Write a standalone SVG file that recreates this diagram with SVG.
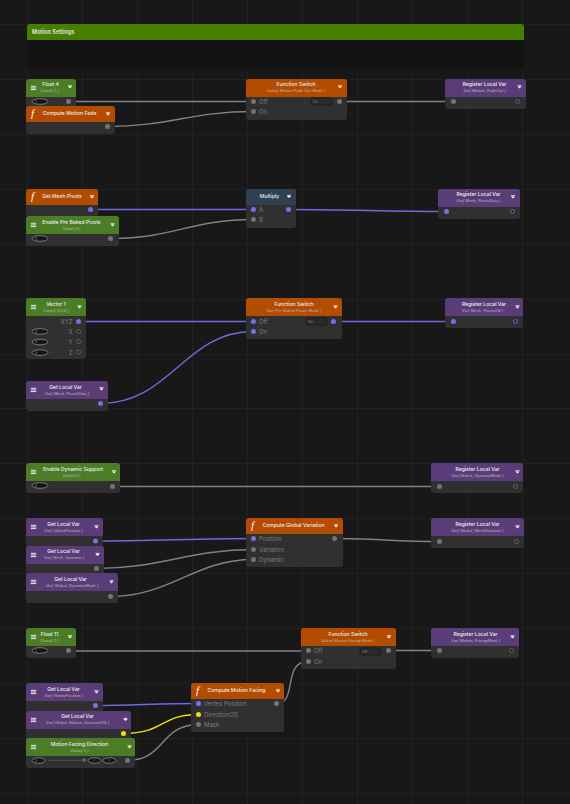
<svg xmlns="http://www.w3.org/2000/svg" width="570" height="804" viewBox="0 0 570 804">
<style>
text{font-family:"Inter","Liberation Sans",Arial,sans-serif}
.t{font-size:5.1px;font-weight:500;fill:#eeeeee;text-anchor:middle}
.s{font-family:"Liberation Sans",Arial,sans-serif;font-size:4.2px;font-style:italic;fill:#c4c4c4;text-anchor:middle;opacity:.9}
.l{font-size:6px;fill:#7c7c7c}
.r{font-size:6px;fill:#7c7c7c;text-anchor:end}
.b{font-size:3.6px;fill:#8a8a8a}
.n{font-size:3.4px;fill:#8a8a8a;text-anchor:middle}
.f{font-family:"Liberation Serif",serif;font-size:11px;font-style:italic;fill:#fff}
.body{fill:#303030}
.green{fill:#4b7d27}.orange{fill:#b34b00}.purple{fill:#5a3d78}.slate{fill:#2f4053}
.w{fill:none;stroke-width:1.4}
.g{stroke:#828282}.p{stroke:#7068e2}.y{stroke:#eee010}
.pg{fill:#747474}.pp{fill:#7770e6}.py{fill:#eee010}
.hg{fill:#2a2a2a;stroke:#6c6c6c;stroke-width:.8}.hp{fill:#2a2a2a;stroke:#7770e6;stroke-width:.8}
.tog{fill:#151515;stroke:#9a9a9a;stroke-width:.7}
.btn{fill:#2a2a2a;stroke:#111;stroke-width:.6}
.grid{stroke:#242424;stroke-width:.8}
</style>
<defs>
<g id="menu"><rect x="-2.700" y="-2.200" width="5.400" height="1.100" fill="#d8d8d8"/><rect x="-2.700" y="-.6" width="5.400" height="1.100" fill="#d8d8d8"/><rect x="-2.700" y="1" width="5.400" height="1.100" fill="#d8d8d8"/></g>
<g id="drop"><rect x="-2" y="-1.600" width="4" height=".8" fill="#fff"/><path d="M-2 -.6H2L0 1.600Z" fill="#fff"/></g>
</defs>
<rect width="570" height="804" fill="#181818"/>
<g id="grid" class="grid">
<path d="M27.500 0V804M82.500 0V804M137.500 0V804M192.500 0V804M247.500 0V804M302.500 0V804M357.500 0V804M412.500 0V804M467.500 0V804M522.500 0V804"/>
<path d="M0 24.500H570M0 79.500H570M0 134.500H570M0 189.500H570M0 244.500H570M0 299.500H570M0 354.500H570M0 408.500H570M0 463.500H570M0 518.500H570M0 573.500H570M0 628.500H570M0 683.500H570M0 738.500H570M0 793.500H570"/>
</g>
<g id="motion-settings">
<path d="M27 40H524V66a3 3 0 0 1-3 3H30a3 3 0 0 1-3-3Z" fill="#131313" fill-opacity=".92"/>
<path d="M27 40V27a3 3 0 0 1 3-3H521a3 3 0 0 1 3 3V40Z" fill="#467f00"/>
<text x="32" y="33.800" style="font-size:5.600px;font-weight:600;fill:#e6e6e6">Motion Settings</text>
</g>
<g id="connectors">
<path class="w g" d="M68.500 101.500H253"/>
<path class="w g" d="M107 126.500C170 126.500 190 111.500 253 111.500"/>
<path class="w g" d="M339.500 101.500H453"/>
<path class="w p" d="M90.500 209.500H253"/>
<path class="w g" d="M110.500 238.500C175 238.500 190 219.500 253 219.500"/>
<path class="w p" d="M288.500 209.500C350 209.500 385 211.500 446 211.500"/>
<path class="w p" d="M78.500 321.500H253"/>
<path class="w p" d="M100.500 403.500C170 403.500 185 331.500 253 331.500"/>
<path class="w p" d="M333.500 321.500H453"/>
<path class="w g" d="M112.500 486.500H439"/>
<path class="w p" d="M95.500 541C150 541 200 538.500 253 538.500"/>
<path class="w g" d="M96.500 568.500C160 568.500 190 549.500 253 549.500"/>
<path class="w g" d="M110.500 596.500C170 596.500 195 559.500 253 559.500"/>
<path class="w g" d="M334.500 538.500C370 538.500 400 541.500 439 541.500"/>
<path class="w g" d="M68.500 651H308"/>
<path class="w g" d="M388.500 650.500H439"/>
<path class="w g" d="M276.500 703.500C298 703.500 282 661.500 308 661.500"/>
<path class="w p" d="M95.500 705.500C130 705.500 160 703.500 198.500 703.500"/>
<path class="w y" d="M123.500 733.500C165 733.500 160 714.500 198.500 714.500"/>
<path class="w g" d="M127.500 760.500C165 760.500 160 724.500 198.500 724.500"/>
</g>
<g id="float-4">
<rect class="body" x="26" y="79" width="50" height="33" rx="3"/><path class="green" d="M26 97V82a3 3 0 0 1 3-3H73a3 3 0 0 1 3 3V97Z"/>
<use href="#menu" x="33.500" y="88"/><use href="#drop" x="70" y="87"/>
<text class="t" x="50.500" y="86">Float 4</text><text class="s" x="49.500" y="92">Const( 1 )</text>
<ellipse class="tog" cx="40" cy="101.500" rx="8" ry="2.800"/><text class="n" x="36" y="102.700">1</text><circle class="pg" cx="68.500" cy="101.500" r="2.500"/>
</g>
<g id="compute-motion-fade">
<rect class="body" x="26" y="106" width="89" height="28" rx="3"/><path class="orange" d="M26 122V109a3 3 0 0 1 3-3H112a3 3 0 0 1 3 3V122Z"/>
<text class="f" x="31" y="117">f</text><use href="#drop" x="108" y="114"/>
<text class="t" x="69.500" y="115">Compute Motion Fade</text>
<circle class="pg" cx="107.500" cy="126.500" r="2.500"/>
</g>
<g id="function-switch-1">
<rect class="body" x="246" y="79" width="101" height="41" rx="3"/><path class="orange" d="M246 97V82a3 3 0 0 1 3-3H344a3 3 0 0 1 3 3V97Z"/>
<use href="#drop" x="340" y="87"/>
<text class="t" x="296" y="86">Function Switch</text><text class="s" x="296" y="92">Value( Motion Fade Out Mode )</text>
<circle class="pg" cx="253.500" cy="101.500" r="2.500"/><text class="l" x="259" y="103.700">Off</text>
<circle class="pg" cx="253.500" cy="111.500" r="2.500"/><text class="l" x="259" y="113.700">On</text>
<rect class="btn" x="311" y="98" width="21" height="7" rx="1.500"/><text class="b" x="313" y="102.800">On</text>
<circle class="pg" cx="339.500" cy="101.500" r="2.500"/>
</g>
<g id="register-fade">
<rect class="body" x="445" y="79" width="81" height="30" rx="3"/><path class="purple" d="M445 97V82a3 3 0 0 1 3-3H523a3 3 0 0 1 3 3V97Z"/>
<use href="#drop" x="519.500" y="87"/>
<text class="t" x="484.500" y="86">Register Local Var</text><text class="s" x="484.500" y="92">Var( Motion_FadeOut )</text>
<circle class="pg" cx="453.500" cy="101.500" r="2.500"/><circle class="hg" cx="517.500" cy="101.500" r="2"/>
</g>
<g id="get-mesh-pivots">
<rect class="body" x="26" y="189" width="72" height="28" rx="3"/><path class="orange" d="M26 205V192a3 3 0 0 1 3-3H95a3 3 0 0 1 3 3V205Z"/>
<text class="f" x="31" y="200">f</text><use href="#drop" x="92" y="197"/>
<text class="t" x="62" y="198">Get Mesh Pivots</text>
<circle class="pp" cx="90.500" cy="209.500" r="2.500"/>
</g>
<g id="enable-pre-baked-pivots">
<rect class="body" x="26" y="216" width="93" height="30" rx="3"/><path class="green" d="M26 234V219a3 3 0 0 1 3-3H116a3 3 0 0 1 3 3V234Z"/>
<use href="#menu" x="33.500" y="225"/><use href="#drop" x="112.500" y="225"/>
<text class="t" x="71.500" y="224">Enable Pre Baked Pivots</text><text class="s" x="71.500" y="229.500">Value( 0 )</text>
<ellipse class="tog" cx="40" cy="238.500" rx="8" ry="2.800"/><text class="n" x="36" y="239.700">0</text><circle class="pg" cx="110.500" cy="238.500" r="2.500"/>
</g>
<g id="multiply">
<rect class="body" x="246" y="189" width="50" height="39" rx="3"/><path class="slate" d="M246 205V192a3 3 0 0 1 3-3H293a3 3 0 0 1 3 3V205Z"/>
<use href="#drop" x="289" y="196.500"/>
<text class="t" x="269.500" y="198">Multiply</text>
<circle class="pp" cx="253.500" cy="209.500" r="2.500"/><text class="l" x="259" y="211.700">A</text>
<circle class="pg" cx="253.500" cy="219.500" r="2.500"/><text class="l" x="259" y="221.700">B</text>
<circle class="pp" cx="288.500" cy="209.500" r="2.500"/>
</g>
<g id="register-pivots-data">
<rect class="body" x="438" y="189" width="82" height="30" rx="3"/><path class="purple" d="M438 207V192a3 3 0 0 1 3-3H517a3 3 0 0 1 3 3V207Z"/>
<use href="#drop" x="513" y="197"/>
<text class="t" x="478.500" y="196">Register Local Var</text><text class="s" x="478.500" y="202">Var( Mesh_PivotsData )</text>
<circle class="pp" cx="446.500" cy="211.500" r="2.500"/><circle class="hp" cx="512.500" cy="211.500" r="2"/>
</g>
<g id="vector-1">
<rect class="body" x="26" y="298" width="60" height="61" rx="3"/><path class="green" d="M26 316V301a3 3 0 0 1 3-3H83a3 3 0 0 1 3 3V316Z"/>
<use href="#menu" x="33.500" y="307"/><use href="#drop" x="79.500" y="307"/>
<text class="t" x="56" y="306">Vector 1</text><text class="s" x="56" y="312">Const( 0,0,0 )</text>
<text class="r" x="72.500" y="323.700">XYZ</text><circle class="pp" cx="78.500" cy="321.500" r="2.500"/>
<ellipse class="tog" cx="40" cy="331.500" rx="8" ry="2.800"/><text class="n" x="36" y="332.700">0</text><text class="r" x="72.500" y="333.700">X</text><circle class="hg" cx="78.500" cy="331.500" r="2"/>
<ellipse class="tog" cx="40" cy="342" rx="8" ry="2.800"/><text class="n" x="36" y="343.200">0</text><text class="r" x="72.500" y="343.700">Y</text><circle class="hg" cx="78.500" cy="341.500" r="2"/>
<ellipse class="tog" cx="40" cy="352.500" rx="8" ry="2.800"/><text class="n" x="36" y="353.700">0</text><text class="r" x="72.500" y="354.700">Z</text><circle class="hg" cx="78.500" cy="352" r="2"/>
</g>
<g id="get-mesh-pivots-data">
<rect class="body" x="26" y="381" width="82" height="30" rx="3"/><path class="purple" d="M26 399V384a3 3 0 0 1 3-3H105a3 3 0 0 1 3 3V399Z"/>
<use href="#menu" x="33.500" y="390"/><use href="#drop" x="101.500" y="389"/>
<text class="t" x="65.500" y="389">Get Local Var</text><text class="s" x="67" y="394.500">Var( Mesh_PivotsData )</text>
<circle class="pp" cx="100.500" cy="403.500" r="2.500"/>
</g>
<g id="function-switch-2">
<rect class="body" x="246" y="298" width="96" height="41" rx="3"/><path class="orange" d="M246 316V301a3 3 0 0 1 3-3H339a3 3 0 0 1 3 3V316Z"/>
<use href="#drop" x="335.500" y="307"/>
<text class="t" x="294" y="306">Function Switch</text><text class="s" x="294" y="312">Var( Pre Baked Pivots Mode )</text>
<circle class="pp" cx="253.500" cy="321.500" r="2.500"/><text class="l" x="259" y="323.700">Off</text>
<circle class="pp" cx="253.500" cy="331.500" r="2.500"/><text class="l" x="259" y="333.700">On</text>
<rect class="btn" x="306" y="318" width="21" height="7" rx="1.500"/><text class="b" x="308" y="322.800">On</text>
<circle class="pp" cx="333.500" cy="321.500" r="2.500"/>
</g>
<g id="register-pivots-os">
<rect class="body" x="445" y="298" width="78" height="30" rx="3"/><path class="purple" d="M445 316V301a3 3 0 0 1 3-3H520a3 3 0 0 1 3 3V316Z"/>
<use href="#drop" x="517.500" y="307"/>
<text class="t" x="484" y="306">Register Local Var</text><text class="s" x="482.500" y="312">Var( Mesh_PivotsOS )</text>
<circle class="pp" cx="453.500" cy="321.500" r="2.500"/><circle class="hp" cx="515.500" cy="321.500" r="2"/>
</g>
<g id="enable-dynamic-support">
<rect class="body" x="26" y="463" width="94" height="30" rx="3"/><path class="green" d="M26 481V466a3 3 0 0 1 3-3H117a3 3 0 0 1 3 3V481Z"/>
<use href="#menu" x="33.500" y="472"/><use href="#drop" x="114" y="472"/>
<text class="t" x="73" y="471">Enable Dynamic Support</text><text class="s" x="71.500" y="476.500">Value( 0 )</text>
<ellipse class="tog" cx="40" cy="485.500" rx="8" ry="2.800"/><text class="n" x="36" y="486.700">0</text><circle class="pg" cx="112.500" cy="486.500" r="2.500"/>
</g>
<g id="register-dynamic">
<rect class="body" x="431" y="463" width="92" height="30" rx="3"/><path class="purple" d="M431 481V466a3 3 0 0 1 3-3H520a3 3 0 0 1 3 3V481Z"/>
<use href="#drop" x="517.500" y="472"/>
<text class="t" x="477.500" y="471">Register Local Var</text><text class="s" x="477.500" y="476.500">Var( Global_DynamicMode )</text>
<circle class="pg" cx="439.500" cy="486.500" r="2.500"/><circle class="hg" cx="515.500" cy="486.500" r="2"/>
</g>
<g id="get-object-position">
<rect class="body" x="26" y="518" width="77" height="30" rx="3"/><path class="purple" d="M26 536V521a3 3 0 0 1 3-3H100a3 3 0 0 1 3 3V536Z"/>
<use href="#menu" x="33.500" y="527"/><use href="#drop" x="96.500" y="527"/>
<text class="t" x="63.500" y="526">Get Local Var</text><text class="s" x="63.500" y="531.500">Var( ObjectPosition )</text>
<circle class="pp" cx="95.500" cy="541" r="2.500"/>
</g>
<g id="get-mesh-variation">
<rect class="body" x="26" y="546" width="78" height="30" rx="3"/><path class="purple" d="M26 564V549a3 3 0 0 1 3-3H101a3 3 0 0 1 3 3V564Z"/>
<use href="#menu" x="33.500" y="555"/><use href="#drop" x="97.500" y="554.500"/>
<text class="t" x="63.500" y="553">Get Local Var</text><text class="s" x="64" y="559">Var( Mesh_Variation )</text>
<circle class="pg" cx="96.500" cy="568.500" r="2.500"/>
</g>
<g id="get-dynamic-mode">
<rect class="body" x="26" y="573" width="92" height="30" rx="3"/><path class="purple" d="M26 591V576a3 3 0 0 1 3-3H115a3 3 0 0 1 3 3V591Z"/>
<use href="#menu" x="33.500" y="582"/><use href="#drop" x="111.500" y="582"/>
<text class="t" x="70.500" y="581">Get Local Var</text><text class="s" x="72" y="586.500">Var( Global_DynamicMode )</text>
<circle class="pg" cx="110.500" cy="596.500" r="2.500"/>
</g>
<g id="compute-global-variation">
<rect class="body" x="246" y="518" width="97" height="49" rx="3"/><path class="orange" d="M246 534V521a3 3 0 0 1 3-3H340a3 3 0 0 1 3 3V534Z"/>
<text class="f" x="251" y="529">f</text><use href="#drop" x="336" y="526"/>
<text class="t" x="293.500" y="527">Compute Global Variation</text>
<circle class="pp" cx="253.500" cy="538.500" r="2.500"/><text class="l" x="259" y="540.700">Position</text>
<circle class="pg" cx="253.500" cy="549.500" r="2.500"/><text class="l" x="259" y="551.700">Variation</text>
<circle class="pg" cx="253.500" cy="559.500" r="2.500"/><text class="l" x="259" y="561.700">Dynamic</text>
<circle class="pg" cx="334.500" cy="538.500" r="2.500"/>
</g>
<g id="register-variation">
<rect class="body" x="431" y="518" width="93" height="30" rx="3"/><path class="purple" d="M431 536V521a3 3 0 0 1 3-3H521a3 3 0 0 1 3 3V536Z"/>
<use href="#drop" x="517.500" y="527"/>
<text class="t" x="477.500" y="526">Register Local Var</text><text class="s" x="477.500" y="531.500">Var( Global_MeshVariation )</text>
<circle class="pg" cx="439.500" cy="541.500" r="2.500"/><circle class="hg" cx="516.500" cy="541.500" r="2"/>
</g>
<g id="float-11">
<rect class="body" x="26" y="628" width="50" height="30" rx="3"/><path class="green" d="M26 646V631a3 3 0 0 1 3-3H73a3 3 0 0 1 3 3V646Z"/>
<use href="#menu" x="33.500" y="637"/><use href="#drop" x="70" y="637"/>
<text class="t" x="49.500" y="636">Float 11</text><text class="s" x="49.500" y="641.500">Const( 1 )</text>
<ellipse class="tog" cx="40" cy="650.500" rx="8" ry="2.800"/><text class="n" x="36" y="651.700">1</text><circle class="pg" cx="68.500" cy="650.500" r="2.500"/>
</g>
<g id="function-switch-3">
<rect class="body" x="301" y="628" width="95" height="41" rx="3"/><path class="orange" d="M301 646V631a3 3 0 0 1 3-3H393a3 3 0 0 1 3 3V646Z"/>
<use href="#drop" x="389" y="637"/>
<text class="t" x="348" y="636">Function Switch</text><text class="s" x="348" y="641.500">Value( Motion Facing Mode )</text>
<circle class="pg" cx="308.500" cy="650.500" r="2.500"/><text class="l" x="314" y="652.700">Off</text>
<circle class="pg" cx="308.500" cy="661.500" r="2.500"/><text class="l" x="314" y="663.700">On</text>
<rect class="btn" x="360" y="648" width="21" height="7" rx="1.500"/><text class="b" x="362" y="652.800">Off</text>
<circle class="pg" cx="388.500" cy="650.500" r="2.500"/>
</g>
<g id="register-facing-mask">
<rect class="body" x="431" y="628" width="88" height="30" rx="3"/><path class="purple" d="M431 646V631a3 3 0 0 1 3-3H516a3 3 0 0 1 3 3V646Z"/>
<use href="#drop" x="512.500" y="637"/>
<text class="t" x="475.500" y="636">Register Local Var</text><text class="s" x="475.500" y="641.500">Var( Motion_FacingMask )</text>
<circle class="pg" cx="439.500" cy="650.500" r="2.500"/><circle class="hg" cx="511.500" cy="650.500" r="2"/>
</g>
<g id="get-vertex-position">
<rect class="body" x="26" y="683" width="77" height="30" rx="3"/><path class="purple" d="M26 701V686a3 3 0 0 1 3-3H100a3 3 0 0 1 3 3V701Z"/>
<use href="#menu" x="33.500" y="692"/><use href="#drop" x="96.500" y="692"/>
<text class="t" x="63.500" y="691">Get Local Var</text><text class="s" x="63.500" y="696.500">Var( VertexPosition )</text>
<circle class="pp" cx="95.500" cy="705.500" r="2.500"/>
</g>
<g id="get-direction-os">
<rect class="body" x="26" y="711" width="105" height="30" rx="3"/><path class="purple" d="M26 729V714a3 3 0 0 1 3-3H128a3 3 0 0 1 3 3V729Z"/>
<use href="#menu" x="33.500" y="720"/><use href="#drop" x="125.500" y="719.500"/>
<text class="t" x="77.500" y="718">Get Local Var</text><text class="s" x="77.500" y="724">Var( Global_Motion_DirectionOS )</text>
<circle class="py" cx="123.500" cy="733.500" r="2.500"/>
</g>
<g id="motion-facing-direction">
<rect class="body" x="26" y="738" width="109" height="30" rx="3"/><path class="green" d="M26 756V741a3 3 0 0 1 3-3H132a3 3 0 0 1 3 3V756Z"/>
<use href="#menu" x="33.500" y="747"/><use href="#drop" x="129.500" y="747"/>
<text class="t" x="79.500" y="746">Motion Facing Direction</text><text class="s" x="79.500" y="751.500">Value( 1 )</text>
<ellipse class="tog" cx="38.500" cy="760.500" rx="6.500" ry="2.800"/><text class="n" x="36" y="761.700">0</text>
<rect x="48" y="759.800" width="36" height="1.200" fill="#4a4a4a"/><circle cx="84" cy="760" r="1.800" fill="#666"/>
<ellipse class="tog" cx="94.500" cy="760.500" rx="6.500" ry="2.800"/><text class="n" x="94" y="761.700">1</text>
<ellipse class="tog" cx="109.500" cy="760.500" rx="6.500" ry="2.800"/><text class="n" x="109" y="761.700">1</text>
<circle class="pg" cx="127.500" cy="760.500" r="2.500"/>
</g>
<g id="compute-motion-facing">
<rect class="body" x="191" y="683" width="93" height="49" rx="3"/><path class="orange" d="M191 699V686a3 3 0 0 1 3-3H281a3 3 0 0 1 3 3V699Z"/>
<text class="f" x="196" y="694">f</text><use href="#drop" x="278" y="691"/>
<text class="t" x="236.500" y="692">Compute Motion Facing</text>
<circle class="pp" cx="198.500" cy="703.500" r="2.500"/><text class="l" x="204" y="705.700">Vertex Position</text>
<circle class="py" cx="198.500" cy="714.500" r="2.500"/><text class="l" x="204" y="716.700">DirectionOS</text>
<circle class="pg" cx="198.500" cy="724.500" r="2.500"/><text class="l" x="204" y="726.700">Mask</text>
<circle class="pg" cx="276.500" cy="703.500" r="2.500"/>
</g>
</svg>
